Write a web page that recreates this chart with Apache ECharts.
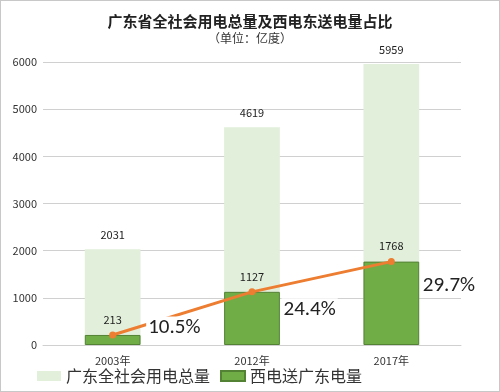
<!DOCTYPE html>
<html><head><meta charset="utf-8">
<script src="https://cdn.jsdelivr.net/npm/echarts@6/dist/echarts.min.js"></script>
<style>html,body{margin:0;padding:0;background:#fff}#c{width:498px;height:390px;border:1px solid #c8c8c8}</style>
</head><body><div id="c"></div>
<script>
const categories = ['2003年', '2012年', '2017年'];
const totalUse = [2031, 4619, 5959];
const westToEast = [213, 1127, 1768];
const sharePct = [10.5, 24.4, 29.7];
const yTicks = [0, 1000, 2000, 3000, 4000, 5000, 6000];

const pctOffsets = [[25, -7], [21, 18], [21, 24]];
const font = '"Microsoft YaHei","Noto Sans CJK SC",sans-serif';
const chart = echarts.init(document.getElementById('c'));
chart.setOption({
  animation: false,
  textStyle: {fontFamily: font},
  title: {
    text: '广东省全社会用电总量及西电东送电量占比',
    subtext: '（单位：亿度）',
    left: 'center', top: 8, itemGap: 3,
    textStyle: {fontSize: 15, fontWeight: 'bold', color: '#222', fontFamily: font},
    subtextStyle: {fontSize: 12, color: '#333', fontFamily: font}
  },
  legend: {
    bottom: 2, left: 31, itemWidth: 24, itemHeight: 10, itemGap: 10, icon: 'rect',
    textStyle: {fontSize: 16, color: '#333'},
    data: ['广东全社会用电总量', '西电送广东电量']
  },
  grid: {left: 42, right: 38, top: 61, bottom: 46},
  xAxis: {
    type: 'category', data: categories,
    axisLine: {lineStyle: {color: '#d0d0d0'}}, axisTick: {show: false},
    axisLabel: {fontSize: 11, color: '#333', margin: 10}
  },
  yAxis: {
    type: 'value', min: yTicks[0], max: yTicks[yTicks.length - 1], interval: 1000,
    axisLine: {show: false}, axisTick: {show: false},
    axisLabel: {fontSize: 11, color: '#333', margin: 6, formatter: v => String(v)},
    splitLine: {lineStyle: {color: '#d0d0d0'}}
  },
  series: [
    {
      name: '广东全社会用电总量', type: 'bar', data: totalUse, barWidth: '40%', barGap: '-100%',
      itemStyle: {color: '#e2efda'},
      label: {show: true, position: 'top', distance: 9, fontSize: 11, color: '#222'}
    },
    {
      name: '西电送广东电量', type: 'bar', data: westToEast, barWidth: '40%',
      itemStyle: {color: '#70ad47', borderColor: '#548235', borderWidth: 1},
      label: {show: true, position: 'top', distance: 10, fontSize: 11, color: '#222'}
    },
    {
      name: '占比', type: 'line', z: 5,
      data: westToEast.map((v, i) => ({value: v, label: {offset: pctOffsets[i]}})),
      symbol: 'circle', symbolSize: 7,
      lineStyle: {color: '#ed7d31', width: 3},
      itemStyle: {color: '#ed7d31'},
      label: {
        show: true, position: 'right', distance: 5, fontSize: 21, color: '#222',
        backgroundColor: '#fff', padding: [1, 2],
        fontFamily: 'Calibri,"Liberation Sans","DejaVu Sans",sans-serif',
        formatter: p => sharePct[p.dataIndex].toFixed(1) + '%'
      }
    }
  ]
});
</script></body></html>
